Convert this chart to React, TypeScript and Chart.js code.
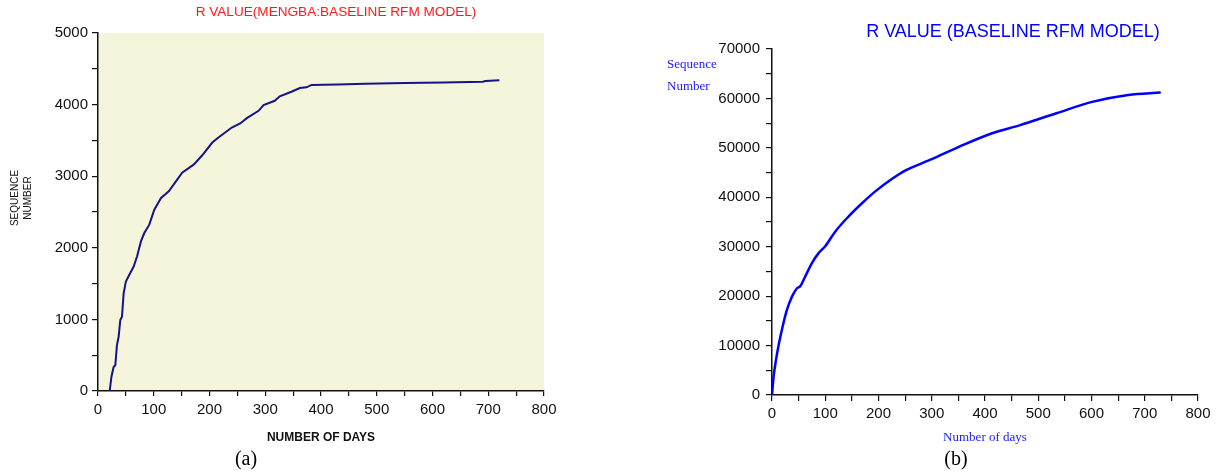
import React, { useEffect, useRef } from "react";
import { Chart, registerables } from "chart.js";

Chart.register(...registerables);

// ---------- data ----------
const leftDays = [21, 24, 28, 31, 34, 37, 40, 43, 46, 50, 56, 64, 70, 77, 83, 92, 101, 113, 127, 142, 151, 172, 187, 205, 216, 240, 255, 267, 288, 297, 317, 326, 347, 362, 374, 383, 430, 480, 550, 620, 690, 695, 720];
const leftSeq = [0, 196, 336, 360, 640, 757, 990, 1037, 1364, 1528, 1621, 1738, 1878, 2089, 2206, 2323, 2533, 2696, 2790, 2953, 3049, 3165, 3292, 3470, 3540, 3680, 3736, 3811, 3913, 3993, 4053, 4115, 4180, 4231, 4241, 4275, 4280, 4290, 4300, 4310, 4320, 4330, 4340];

const rightDays = [0, 3, 7.5, 12.5, 20, 28, 37.5, 47, 53, 62.5, 75, 87.5, 100, 119, 144, 169, 194, 225, 250, 300, 351, 412, 466, 534, 601, 669, 730];
const rightSeq = [0, 3700, 7100, 10100, 13850, 17200, 19900, 21600, 22000, 24000, 26700, 28700, 30100, 33100, 36150, 38800, 41200, 43700, 45400, 47700, 50200, 52900, 54600, 57000, 59300, 60700, 61200];

const xTickLabels = [0, 100, 200, 300, 400, 500, 600, 700, 800];
const leftYTickLabels = [0, 1000, 2000, 3000, 4000, 5000];
const rightYTickLabels = [0, 10000, 20000, 30000, 40000, 50000, 60000, 70000];

const leftTitle = "R VALUE(MENGBA:BASELINE RFM MODEL)";
const leftYTitle = ["SEQUENCE", "NUMBER"];
const leftXTitle = "NUMBER OF DAYS";
const captionA = "(a)";

const rightTitle = "R VALUE (BASELINE RFM MODEL)";
const rightYTitle = ["Sequence", "Number"];
const rightXTitle = "Number of days";
const captionB = "(b)";

// ---------- helpers ----------
const SANS = "'Liberation Sans', Arial, Helvetica, sans-serif";
const SERIF = "'Liberation Serif', 'Times New Roman', serif";

const freeTextPlugin = {
  id: "freeText",
  afterDraw(chart: any, _args: any, opts: any) {
    const ctx = chart.ctx;
    for (const t of opts.items || []) {
      ctx.save();
      ctx.font = t.font;
      ctx.fillStyle = t.color;
      ctx.textAlign = t.align || "center";
      ctx.textBaseline = "middle";
      ctx.translate(t.x, t.y);
      if (t.rotation) ctx.rotate(t.rotation);
      const lines = Array.isArray(t.text) ? t.text : [t.text];
      lines.forEach((ln: string, i: number) => ctx.fillText(ln, 0, i * (t.lineHeight || 0)));
      ctx.restore();
    }
  },
};

const plotBgPlugin = {
  id: "plotBg",
  beforeDraw(chart: any, _args: any, opts: any) {
    if (!opts.color) return;
    const { ctx, chartArea } = chart;
    ctx.save();
    ctx.fillStyle = opts.color;
    ctx.fillRect(chartArea.left, chartArea.top, chartArea.right - chartArea.left, chartArea.bottom - chartArea.top);
    ctx.restore();
  },
};

function zip(xs: number[], ys: number[]) {
  return xs.map((x, i) => ({ x, y: ys[i] }));
}

function ChartCanvas({ config, left, width, height }: any) {
  const ref = useRef<HTMLCanvasElement>(null);
  useEffect(() => {
    const chart = new Chart(ref.current as HTMLCanvasElement, config);
    return () => chart.destroy();
  }, []);
  return (
    <canvas
      ref={ref}
      width={width}
      height={height}
      style={{ position: "absolute", left, top: 0, width, height }}
    />
  );
}

const axisGrid = (tickLength: number) => ({
  display: true,
  drawOnChartArea: false,
  drawTicks: true,
  tickLength,
  color: "#111",
  lineWidth: 1.2,
});
const axisBorder = { display: true, color: "#111", width: 1.5 };

const leftConfig: any = {
  type: "line",
  data: {
    datasets: [
      {
        data: zip(leftDays, leftSeq),
        borderColor: "#14148a",
        borderWidth: 2,
        pointRadius: 0,
        tension: 0,
        fill: false,
      },
    ],
  },
  options: {
    responsive: false,
    animation: false,
    devicePixelRatio: 1,
    layout: { padding: { top: 33, left: 0, right: 67, bottom: 21 } },
    plugins: {
      legend: { display: false },
      tooltip: { enabled: false },
      plotBg: { color: "#f5f5dc" },
      freeText: {
        items: [
          { text: leftTitle, x: 336, y: 12, font: `13.6px ${SANS}`, color: "#ff1a1a" },
          { text: leftYTitle, x: 15, y: 198, font: `10px ${SANS}`, color: "#111", rotation: -Math.PI / 2, lineHeight: 13 },
          { text: captionA, x: 246, y: 460, font: `20px ${SERIF}`, color: "#000" },
        ],
      },
    },
    scales: {
      x: {
        type: "linear",
        min: 0,
        max: 800,
        afterFit: (s: any) => { s.height = 60; },
        grid: axisGrid(5),
        border: axisBorder,
        ticks: {
          stepSize: 50,
          autoSkip: false,
          maxRotation: 0,
          padding: 5,
          color: "#111",
          font: { family: SANS, size: 15 },
          callback: (v: number) => (xTickLabels.includes(v) ? String(v) : ""),
        },
        title: {
          display: true,
          text: leftXTitle,
          color: "#111",
          font: { family: SANS, size: 12, weight: "bold" },
          padding: { top: 0, bottom: 6 },
        },
      },
      y: {
        type: "linear",
        min: 0,
        max: 5000,
        afterFit: (s: any) => { s.width = 98; },
        grid: axisGrid(6),
        border: axisBorder,
        ticks: {
          stepSize: 500,
          autoSkip: false,
          padding: 4,
          color: "#111",
          font: { family: SANS, size: 15 },
          callback: (v: number) => (leftYTickLabels.includes(v) ? String(v) : ""),
        },
      },
    },
  },
  plugins: [plotBgPlugin, freeTextPlugin],
};

const RIGHT_LEFT = 611;

const rightConfig: any = {
  type: "line",
  data: {
    datasets: [
      {
        data: zip(rightDays, rightSeq),
        borderColor: "#0000ff",
        borderWidth: 2.5,
        pointRadius: 0,
        cubicInterpolationMode: "monotone",
        fill: false,
      },
    ],
  },
  options: {
    responsive: false,
    animation: false,
    devicePixelRatio: 1,
    layout: { padding: { top: 49, left: 0, right: 24, bottom: 17 } },
    plugins: {
      legend: { display: false },
      tooltip: { enabled: false },
      freeText: {
        items: [
          { text: rightTitle, x: 1013 - RIGHT_LEFT, y: 32, font: `18px ${SANS}`, color: "#0000ff" },
          { text: rightYTitle, x: 667 - RIGHT_LEFT, y: 65, font: `13px ${SERIF}`, color: "#1a1aff", align: "left", lineHeight: 22 },
          { text: captionB, x: 956 - RIGHT_LEFT, y: 460, font: `20px ${SERIF}`, color: "#000" },
        ],
      },
    },
    scales: {
      x: {
        type: "linear",
        min: 0,
        max: 800,
        afterFit: (s: any) => { s.height = 60; },
        grid: axisGrid(6),
        border: axisBorder,
        ticks: {
          stepSize: 50,
          autoSkip: false,
          maxRotation: 0,
          padding: 4,
          color: "#111",
          font: { family: SANS, size: 15 },
          callback: (v: number) => (xTickLabels.includes(v) ? String(v) : ""),
        },
        title: {
          display: true,
          text: rightXTitle,
          color: "#1a1aff",
          font: { family: SERIF, size: 13 },
          padding: { top: 0, bottom: 10 },
        },
      },
      y: {
        type: "linear",
        min: 0,
        max: 70000,
        afterFit: (s: any) => { s.width = 161; },
        grid: axisGrid(6),
        border: axisBorder,
        ticks: {
          stepSize: 5000,
          autoSkip: false,
          padding: 6,
          color: "#111",
          font: { family: SANS, size: 15 },
          callback: (v: number) => (rightYTickLabels.includes(v) ? String(v) : ""),
        },
      },
    },
  },
  plugins: [freeTextPlugin],
};

export default function App() {
  return (
    <div
      style={{
        position: "absolute",
        left: 0,
        top: 0,
        width: 1222,
        height: 472,
        overflow: "hidden",
        background: "#fff",
      }}
    >
      <ChartCanvas config={leftConfig} left={0} width={611} height={472} />
      <ChartCanvas config={rightConfig} left={RIGHT_LEFT} width={611} height={472} />
    </div>
  );
}
